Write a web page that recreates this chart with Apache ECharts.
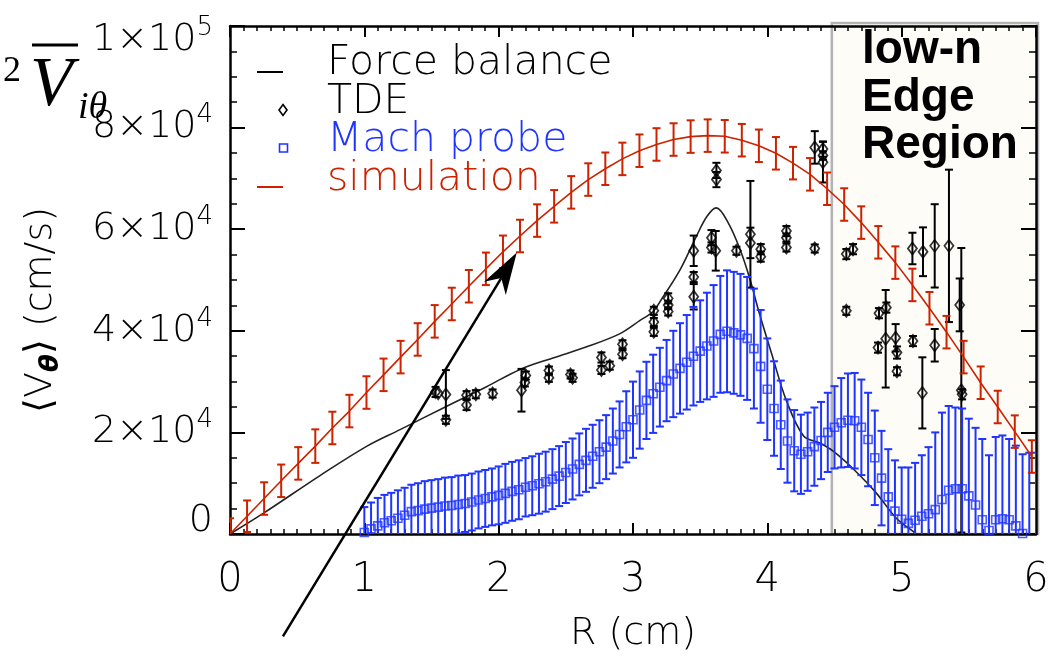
<!DOCTYPE html>
<html><head><meta charset="utf-8">
<script src="https://cdn.jsdelivr.net/npm/echarts@6/dist/echarts.min.js"></script>
<style>html,body{margin:0;padding:0;background:#fff}#c{width:1057px;height:658px}</style>
</head><body><div id="c"></div>
<script>
// ---------- tick labels ----------
const xTickLabels = ['0','1','2','3','4','5','6'];
const yTickBase = ['0','2×10','4×10','6×10','8×10','1×10'];
const yTickExp  = ['','4','4','4','4','5'];

// ---------- simulation (red) ----------
const simR = [0,0.127,0.254,0.381,0.508,0.635,0.762,0.889,1.016,1.143,1.27,1.397,1.524,1.651,1.778,1.905,2.032,2.159,2.286,2.413,2.54,2.667,2.794,2.921,3.048,3.175,3.302,3.429,3.556,3.683,3.81,3.937,4.064,4.191,4.318,4.445,4.572,4.699,4.826,4.953,5.08,5.207,5.334,5.461,5.588,5.715,5.842,5.969];
const simV = [0,3500,6980,10470,13900,17300,20870,24200,27850,31330,34820,38300,41860,45280,48770,52200,55550,58660,61700,64500,67250,69770,71900,73840,75450,76680,77650,78230,78420,78290,77520,76420,74940,73000,70800,67960,64860,61300,57420,53420,49030,44440,39730,34820,29780,25000,20150,15250];
const simErr = [3100,3100,3200,3200,3200,3300,3200,3200,3200,3200,3200,3200,3200,3200,3200,3200,3200,3200,3200,3200,3200,3200,3200,3200,3200,3200,3200,3200,3200,3200,3200,3200,3200,3200,3200,3200,3200,3200,3200,3200,3200,3200,3200,3200,3200,3200,3200,3200];

// ---------- force balance (black line) ----------
const fbR = [0,0.25,0.67,1.02,1.27,1.61,1.91,2.16,2.41,2.65,2.90,3.05,3.15,3.20,3.35,3.47,3.55,3.62,3.71,3.80,3.87,3.94,4.04,4.14,4.27,4.39,4.49,4.64,4.81,4.96,5.08,5.11];
const fbV = [0,4100,11500,17300,20600,25100,29000,32400,34700,36800,39400,42000,43800,45700,52000,58500,62500,64200,61200,55800,50200,43500,34800,26400,19300,17900,16300,12800,8100,3100,600,0];

// ---------- TDE (black diamonds) ----------
const tdeR = [1.53,1.55,1.607,1.607,1.761,1.761,1.83,1.955,2.17,2.195,2.202,2.374,2.374,2.535,2.55,2.765,2.765,2.827,2.922,2.922,3.155,3.155,3.155,3.262,3.262,3.262,3.452,3.452,3.452,3.584,3.584,3.616,3.621,3.621,3.77,3.874,3.874,3.951,3.951,4.142,4.142,4.142,4.353,4.353,4.414,4.414,4.414,4.588,4.638,4.588,4.831,4.886,4.881,4.824,4.955,4.965,4.965,5.084,5.08,5.159,5.246,5.352,5.246,5.154,5.432,5.444,5.45];
const tdeV = [27960,27700,27460,22480,27330,25390,27520,27650,28300,29840,31200,32170,30750,31400,30750,34750,32300,33140,37340,35400,43930,41730,39790,46380,45090,43800,55750,50580,46700,58330,56400,55750,71570,69770,55750,59000,57300,56070,54600,59630,58330,56400,56200,76100,75770,74500,73200,55100,56070,43930,43470,44570,38430,36690,38620,35720,32040,37980,56200,55560,56720,56720,37150,27780,45100,28300,27500];
const tdeErr = [1000,0,4800,800,800,1000,800,800,4200,800,800,800,800,800,800,1000,800,800,800,800,800,800,800,1000,800,800,3000,1000,2500,1500,1000,3900,1500,1500,800,10500,3000,1000,1000,1000,800,800,800,3200,1500,800,4000,1000,1000,800,1000,1000,9600,1000,2700,1200,800,1000,3100,4800,8200,15000,3200,7000,5200,28000,1000];

// ---------- Mach probe (blue squares) ----------
const machR = [1.00,1.05,1.10,1.15,1.20,1.25,1.30,1.35,1.40,1.45,1.50,1.55,1.60,1.65,1.70,1.75,1.80,1.85,1.90,1.95,2.00,2.05,2.10,2.15,2.20,2.25,2.30,2.35,2.40,2.45,2.50,2.55,2.60,2.65,2.70,2.75,2.80,2.85,2.90,2.95,3.00,3.05,3.10,3.15,3.20,3.25,3.30,3.35,3.40,3.45,3.50,3.55,3.60,3.65,3.70,3.75,3.80,3.85,3.90,3.95,4.00,4.05,4.10,4.15,4.20,4.25,4.30,4.35,4.40,4.45,4.50,4.55,4.60,4.65,4.70,4.75,4.80,4.85,4.90,4.95,5.00,5.05,5.10,5.15,5.20,5.25,5.30,5.35,5.40,5.45,5.50,5.55,5.60,5.65,5.70,5.75,5.80,5.85,5.90,5.95,6.00];
const machV = [300,1000,1600,2200,2600,3100,3700,4400,4600,4900,5100,5300,5500,5600,5800,6000,6300,6700,7000,7300,7600,8000,8400,8700,9200,9500,9900,10300,10800,11400,12100,12800,13700,14500,15300,16200,17100,18300,19600,21100,22500,24400,26300,27600,28900,30200,31500,32600,33800,35000,36000,37000,38000,39300,39900,39600,39200,38500,36500,33000,28500,24700,21500,18300,16400,15700,16200,17200,18400,20000,21000,21900,22400,22300,21000,18600,15000,11000,7300,4500,2900,2100,2700,3500,4000,4800,6800,8600,8900,8900,7500,5700,2800,700,2800,3000,2800,1600,100,-1500,-2500];
const machErr = [5000,5200,5500,5500,5500,5500,5400,5300,5400,5500,5500,5500,5600,5600,5700,5600,5600,5600,5600,5600,5700,5800,5800,5800,5750,5800,5900,5900,5900,5900,6000,6000,6100,6200,6200,6200,6300,6400,6500,7000,7500,7600,7600,7700,7750,8000,8500,8900,9300,9700,10000,10500,11000,11500,12000,12000,12000,12100,11800,11100,10000,9300,8700,8200,8000,7800,7700,7700,7600,7800,8100,8800,9200,9400,9400,9200,9300,9300,9400,10000,10200,11000,11300,12000,13100,15200,17100,16600,16000,15800,15200,15200,15900,14800,16300,16400,15900,15800,15600,17500,18500];

// ---------- annotations (data coordinates) ----------
const edgeRegionR = [4.48, 6];
const arrowStart = [0.394, -20150];
const arrowTip = [2.135, 55430];

const RED = '#cc2200', BLUE = '#1f35ff', FONT = 'DejaVu Sans', FW = 300;

function errBars(capHalf, color, lw) {
  return function (params, api) {
    const x = api.value(0), y = api.value(1), e = api.value(2);
    if (!e) return null;
    const t = api.coord([x, y + e]), b = api.coord([x, y - e]);
    const st = { stroke: color, lineWidth: lw };
    return { type: 'group', children: [
      { type: 'line', shape: { x1: t[0], y1: t[1], x2: b[0], y2: b[1] }, style: st },
      { type: 'line', shape: { x1: t[0] - capHalf, y1: t[1], x2: t[0] + capHalf, y2: t[1] }, style: st },
      { type: 'line', shape: { x1: b[0] - capHalf, y1: b[1], x2: b[0] + capHalf, y2: b[1] }, style: st }
    ]};
  };
}

const zip3 = (a, b, c) => a.map((v, i) => [v, b[i], c[i]]);
const zip2 = (a, b) => a.map((v, i) => [v, b[i]]);

const axisLine = { show: true, onZero: false, lineStyle: { color: '#000', width: 2.5 } };
const xTick = { inside: true, length: 11, lineStyle: { color: '#000', width: 2 } };
const xMinor = { show: true, splitNumber: 10, length: 5, lineStyle: { color: '#000', width: 1.5 } };
const yTick = { inside: true, length: 15, lineStyle: { color: '#000', width: 2 } };
const yMinor = { show: true, splitNumber: 4, length: 7, lineStyle: { color: '#000', width: 1.5 } };

const chart = echarts.init(document.getElementById('c'));
chart.setOption({
  animation: false,
  backgroundColor: '#fff',
  grid: { left: 230, right: 21, top: 20, bottom: 122 },
  xAxis: [{
    type: 'value', min: 0, max: 6, interval: 1, position: 'bottom',
    axisLine, splitLine: { show: false }, axisTick: xTick, minorTick: xMinor,
    axisLabel: { margin: 27, fontSize: 40, fontFamily: FONT, fontWeight: FW, color: '#000',
      formatter: (v) => xTickLabels[Math.round(v)] },
    name: 'R (cm)', nameLocation: 'middle', nameGap: 81,
    nameTextStyle: { fontSize: 38, fontFamily: FONT, fontWeight: FW, color: '#000' }
  }, {
    type: 'value', min: 0, max: 6, interval: 1, position: 'top',
    axisLine, splitLine: { show: false }, axisTick: xTick, minorTick: xMinor,
    axisLabel: { show: false }
  }],
  yAxis: [{
    type: 'value', min: 0, max: 100000, interval: 20000, position: 'left',
    axisLine, splitLine: { show: false }, axisTick: yTick, minorTick: yMinor,
    axisLabel: {
      margin: 17, color: '#000',
      formatter: (v) => {
        const i = Math.round(v / 20000);
        if (i === 0) return '{z|' + yTickBase[0] + '}\n{sp2| }';
        if (i === 5) return '{sp| }\n{b|' + yTickBase[5] + '}{e|' + yTickExp[5] + '}';
        return '{b|' + yTickBase[i] + '}{e|' + yTickExp[i] + '}';
      },
      rich: {
        b: { fontSize: 38, lineHeight: 50, fontFamily: FONT, fontWeight: FW, color: '#000' },
        z: { fontSize: 38, lineHeight: 50, fontFamily: FONT, fontWeight: FW, color: '#000' },
        e: { fontSize: 26, lineHeight: 26, verticalAlign: 'top', fontFamily: FONT, fontWeight: FW, color: '#000' },
        sp: { fontSize: 2, lineHeight: 28 },
        sp2: { fontSize: 2, lineHeight: 26 }
      }
    },
    name: '{n|⟨V}{s|θ}{n|⟩ (cm/s)}', nameLocation: 'middle', nameGap: 166, nameRotate: 90,
    nameTextStyle: {
      padding: [0, 60, 0, 0],
      rich: {
        n: { fontSize: 38, lineHeight: 46, fontFamily: FONT, fontWeight: FW, color: '#000' },
        s: { fontSize: 26, lineHeight: 26, verticalAlign: 'bottom', fontFamily: FONT, fontStyle: 'italic', fontWeight: 'bold', color: '#000' }
      }
    }
  }, {
    type: 'value', min: 0, max: 100000, interval: 20000, position: 'right',
    axisLine, splitLine: { show: false }, axisTick: yTick, minorTick: yMinor,
    axisLabel: { show: false }
  }],
  series: [
    { name: 'Force balance', type: 'line', data: zip2(fbR, fbV), showSymbol: false, smooth: 0.35,
      lineStyle: { color: '#222', width: 1.6 }, z: 3 },
    { name: 'TDE err', type: 'custom', data: zip3(tdeR, tdeV, tdeErr), renderItem: errBars(4, '#000', 2),
      encode: { x: 0, y: 1 }, clip: true, z: 4 },
    { name: 'TDE', type: 'scatter', data: zip2(tdeR, tdeV), symbol: 'diamond', symbolSize: [9, 12],
      itemStyle: { color: 'rgba(255,255,255,0)', borderColor: '#000', borderWidth: 1.8 }, z: 5 },
    { name: 'Mach err', type: 'custom', data: zip3(machR, machV, machErr), renderItem: errBars(4, BLUE, 2),
      encode: { x: 0, y: 1 }, clip: true, z: 6 },
    { name: 'Mach probe', type: 'scatter', data: zip2(machR, machV), symbol: 'rect', symbolSize: 8,
      itemStyle: { color: 'rgba(255,255,255,0)', borderColor: BLUE, borderWidth: 1.6 }, z: 7 },
    { name: 'simulation', type: 'line', data: zip2(simR, simV), showSymbol: false,
      lineStyle: { color: RED, width: 1.6 }, z: 8 },
    { name: 'sim err', type: 'custom', data: zip3(simR, simV, simErr), renderItem: errBars(4, RED, 2),
      encode: { x: 0, y: 1 }, clip: true, z: 9 }
  ]
});

// ---------- graphics: region box, legend, labels, arrow ----------
const px = (p) => chart.convertToPixel({ xAxisIndex: 0, yAxisIndex: 0 }, p);
const eL = px([edgeRegionR[0], 100000]), eR = px([edgeRegionR[1], 0]);
const tip = px(arrowTip), st = px(arrowStart);
const dx = tip[0] - st[0], dy = tip[1] - st[1], L = Math.hypot(dx, dy);
const u = [dx / L, dy / L], n = [-u[1], u[0]];
const headLen = 42, headHalf = 12.7, notch = 30;
const b1 = [tip[0] - u[0] * headLen + n[0] * headHalf, tip[1] - u[1] * headLen + n[1] * headHalf];
const b2 = [tip[0] - u[0] * headLen - n[0] * headHalf, tip[1] - u[1] * headLen - n[1] * headHalf];
const nt = [tip[0] - u[0] * notch, tip[1] - u[1] * notch];

const legTxt = { fontSize: 41, fontFamily: FONT, fontWeight: FW, verticalAlign: 'middle' };
chart.setOption({
  graphic: [
    { type: 'rect', z: -10, silent: true,
      shape: { x: eL[0], y: eL[1] - 3, width: eR[0] - eL[0] + 2, height: eR[1] - eL[1] + 3 },
      style: { fill: '#fdfcf6', stroke: '#b3b3b3', lineWidth: 2.6 } },
    { type: 'text', z: 50, left: 862, top: 27,
      style: { text: 'low-n\nEdge\nRegion', fontSize: 46, lineHeight: 47.5, fontWeight: 'bold',
        fontFamily: 'Liberation Sans', fill: '#000' } },
    // legend
    { type: 'line', z: 50, shape: { x1: 257, y1: 72, x2: 283, y2: 72 }, style: { stroke: '#000', lineWidth: 2 } },
    { type: 'text', z: 50, x: 327, y: 63, style: Object.assign({ text: 'Force balance', fill: '#000' }, legTxt) },
    { type: 'polygon', z: 50, shape: { points: [[283, 104.5], [287, 110], [283, 115.5], [279, 110]] },
      style: { fill: 'none', stroke: '#000', lineWidth: 1.6 } },
    { type: 'text', z: 50, x: 327, y: 102, style: Object.assign({ text: 'TDE', fill: '#000' }, legTxt) },
    { type: 'rect', z: 50, shape: { x: 279.5, y: 144, width: 8, height: 8 },
      style: { fill: 'none', stroke: BLUE, lineWidth: 1.6 } },
    { type: 'text', z: 50, x: 327, y: 140, style: Object.assign({ text: 'Mach probe', fill: BLUE }, legTxt) },
    { type: 'line', z: 50, shape: { x1: 257, y1: 187, x2: 283, y2: 187 }, style: { stroke: RED, lineWidth: 2 } },
    { type: 'text', z: 50, x: 327, y: 179, style: Object.assign({ text: 'simulation', fill: RED }, legTxt) },
    // overlay symbol at top-left
    { type: 'text', z: 50, x: 3, y: 54, style: { text: '2', fontSize: 36, fontFamily: 'Liberation Serif', fill: '#000' } },
    { type: 'line', z: 50, shape: { x1: 32, y1: 45, x2: 78, y2: 45 }, style: { stroke: '#000', lineWidth: 3 } },
    { type: 'text', z: 50, x: 30, y: 52, style: { text: 'V', fontSize: 70, fontStyle: 'italic', fontFamily: 'Liberation Serif', fill: '#000' } },
    { type: 'text', z: 50, x: 78, y: 89, style: { text: 'iθ', fontSize: 38, fontStyle: 'italic', fontFamily: 'Liberation Serif', fill: '#000' } },
    // arrow
    { type: 'line', z: 60, shape: { x1: st[0], y1: st[1], x2: nt[0], y2: nt[1] }, style: { stroke: '#000', lineWidth: 2.5 } },
    { type: 'polygon', z: 60, shape: { points: [tip, b1, nt, b2] }, style: { fill: '#000' } }
  ]
});
</script></body></html>
